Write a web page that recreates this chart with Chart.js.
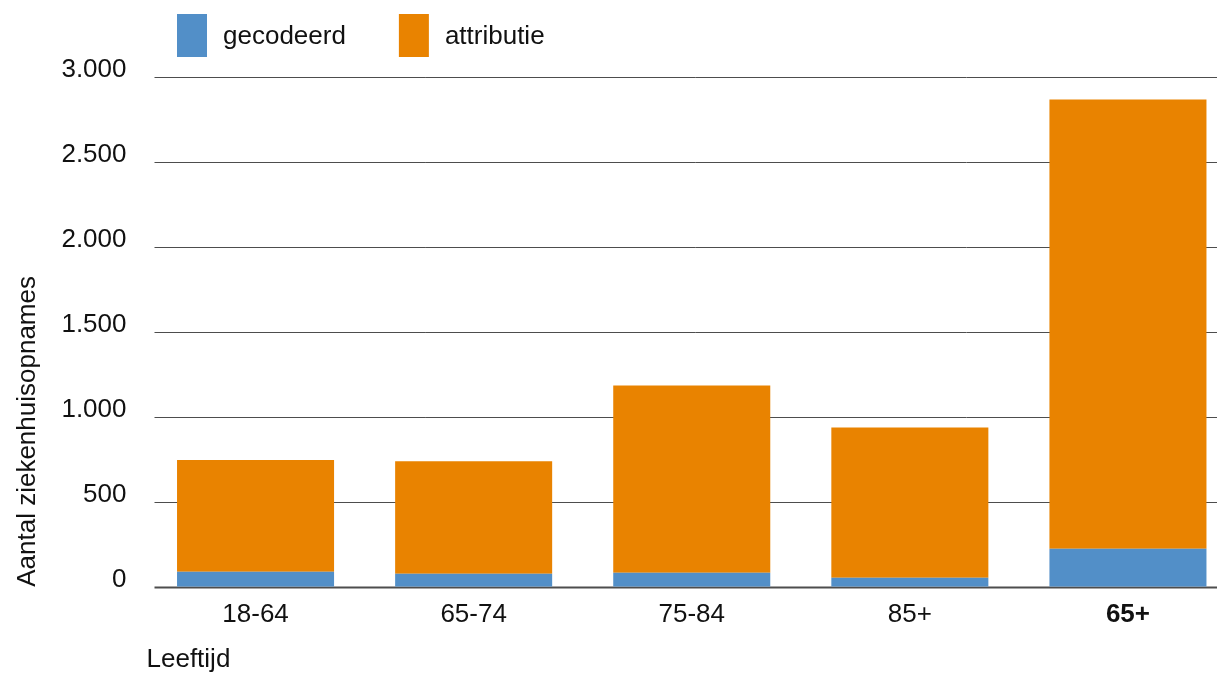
<!DOCTYPE html>
<html lang="nl">
<head>
<meta charset="utf-8">
<title>Ziekenhuisopnames naar leeftijd</title>
<script src="https://cdn.jsdelivr.net/npm/chart.js@4.4.1/dist/chart.umd.min.js"></script>
<style>
  html, body { margin: 0; padding: 0; background: #ffffff; overflow: hidden; }
  #wrap { width: 1240px; height: 673px; }
</style>
</head>
<body>
<div id="wrap"><canvas id="chart" width="1240" height="673"></canvas></div>
<script>
// Leeftijdsgroepen en aantallen ziekenhuisopnames per groep
const categories = ['18-64', '65-74', '75-84', '85+', '65+'];
const gecodeerd  = [88, 76, 82, 53, 223];
const attributie = [658, 662, 1101, 884, 2642];
const yTicks = [0, 500, 1000, 1500, 2000, 2500, 3000];

const BLUE = '#528fc8';
const ORANGE = '#e98300';
const FONT = '"Liberation Sans", Arial, sans-serif';
const SIZE = 26;
const GRID = '#4d4d4d';

// thousands separator as a dot
const fmt = v => String(v).replace(/\B(?=(\d{3})+(?!\d))/g, '.');

// Horizontal grid lines, drawn slightly inset from the plot's left edge
const gridPlugin = {
  id: 'hgrid',
  beforeDatasetsDraw(chart) {
    const { ctx, chartArea, scales } = chart;
    ctx.save();
    ctx.strokeStyle = GRID;
    yTicks.forEach(v => {
      const y = Math.round(scales.y.getPixelForValue(v)) + 0.5;
      ctx.lineWidth = v === 0 ? 2 : 1;
      ctx.beginPath();
      ctx.moveTo(chartArea.left + 8, y);
      ctx.lineTo(chartArea.right, y);
      ctx.stroke();
    });
    ctx.restore();
  }
};

// Legend with tall colour swatches above the plot
const legendPlugin = {
  id: 'tallLegend',
  afterDraw(chart) {
    const { ctx, chartArea } = chart;
    let x = chartArea.left + 30.5;
    const top = 14, boxW = 30, boxH = 43;
    ctx.save();
    ctx.font = SIZE + 'px ' + FONT;
    ctx.textBaseline = 'middle';
    chart.data.datasets.forEach(ds => {
      ctx.fillStyle = ds.backgroundColor;
      ctx.fillRect(x, top, boxW, boxH);
      x += boxW + 16;
      ctx.fillStyle = '#111111';
      ctx.fillText(ds.label, x, top + boxH / 2 + 1);
      x += ctx.measureText(ds.label).width + 53;
    });
    ctx.restore();
  }
};

new Chart(document.getElementById('chart'), {
  type: 'bar',
  data: {
    labels: categories,
    datasets: [
      { label: 'gecodeerd', data: gecodeerd, backgroundColor: BLUE,
        barPercentage: 0.72, categoryPercentage: 1.0 },
      { label: 'attributie', data: attributie, backgroundColor: ORANGE,
        barPercentage: 0.72, categoryPercentage: 1.0 }
    ]
  },
  options: {
    responsive: false,
    animation: false,
    devicePixelRatio: 1,
    layout: { padding: { top: 76.5, right: 3, bottom: 0, left: 0 } },
    plugins: {
      legend: { display: false },
      tooltip: { enabled: false }
    },
    scales: {
      x: {
        stacked: true,
        grid: { display: false },
        border: { display: false },
        ticks: {
          color: '#111111',
          padding: 4,
          font: ctx => ({ family: FONT, size: SIZE, weight: ctx.index === 4 ? 'bold' : 'normal' })
        },
        title: {
          display: true,
          text: 'Leeftijd',
          align: 'start',
          color: '#111111',
          font: { family: FONT, size: SIZE, lineHeight: 1.0 },
          padding: { top: 13, bottom: 0 }
        }
      },
      y: {
        stacked: true,
        min: 0,
        max: 3000,
        grid: { display: false },
        border: { display: false },
        afterBuildTicks: scale => { scale.ticks = yTicks.map(v => ({ value: v })); },
        afterFit: scale => { scale.width = 146.5; },
        ticks: {
          color: '#111111',
          padding: 12,
          labelOffset: -7,
          font: { family: FONT, size: SIZE },
          callback: v => fmt(v)
        },
        title: {
          display: true,
          text: 'Aantal ziekenhuisopnames',
          align: 'start',
          color: '#111111',
          font: { family: FONT, size: SIZE },
          padding: { top: 12, bottom: 0 }
        }
      }
    }
  },
  plugins: [gridPlugin, legendPlugin]
});
</script>
</body>
</html>
